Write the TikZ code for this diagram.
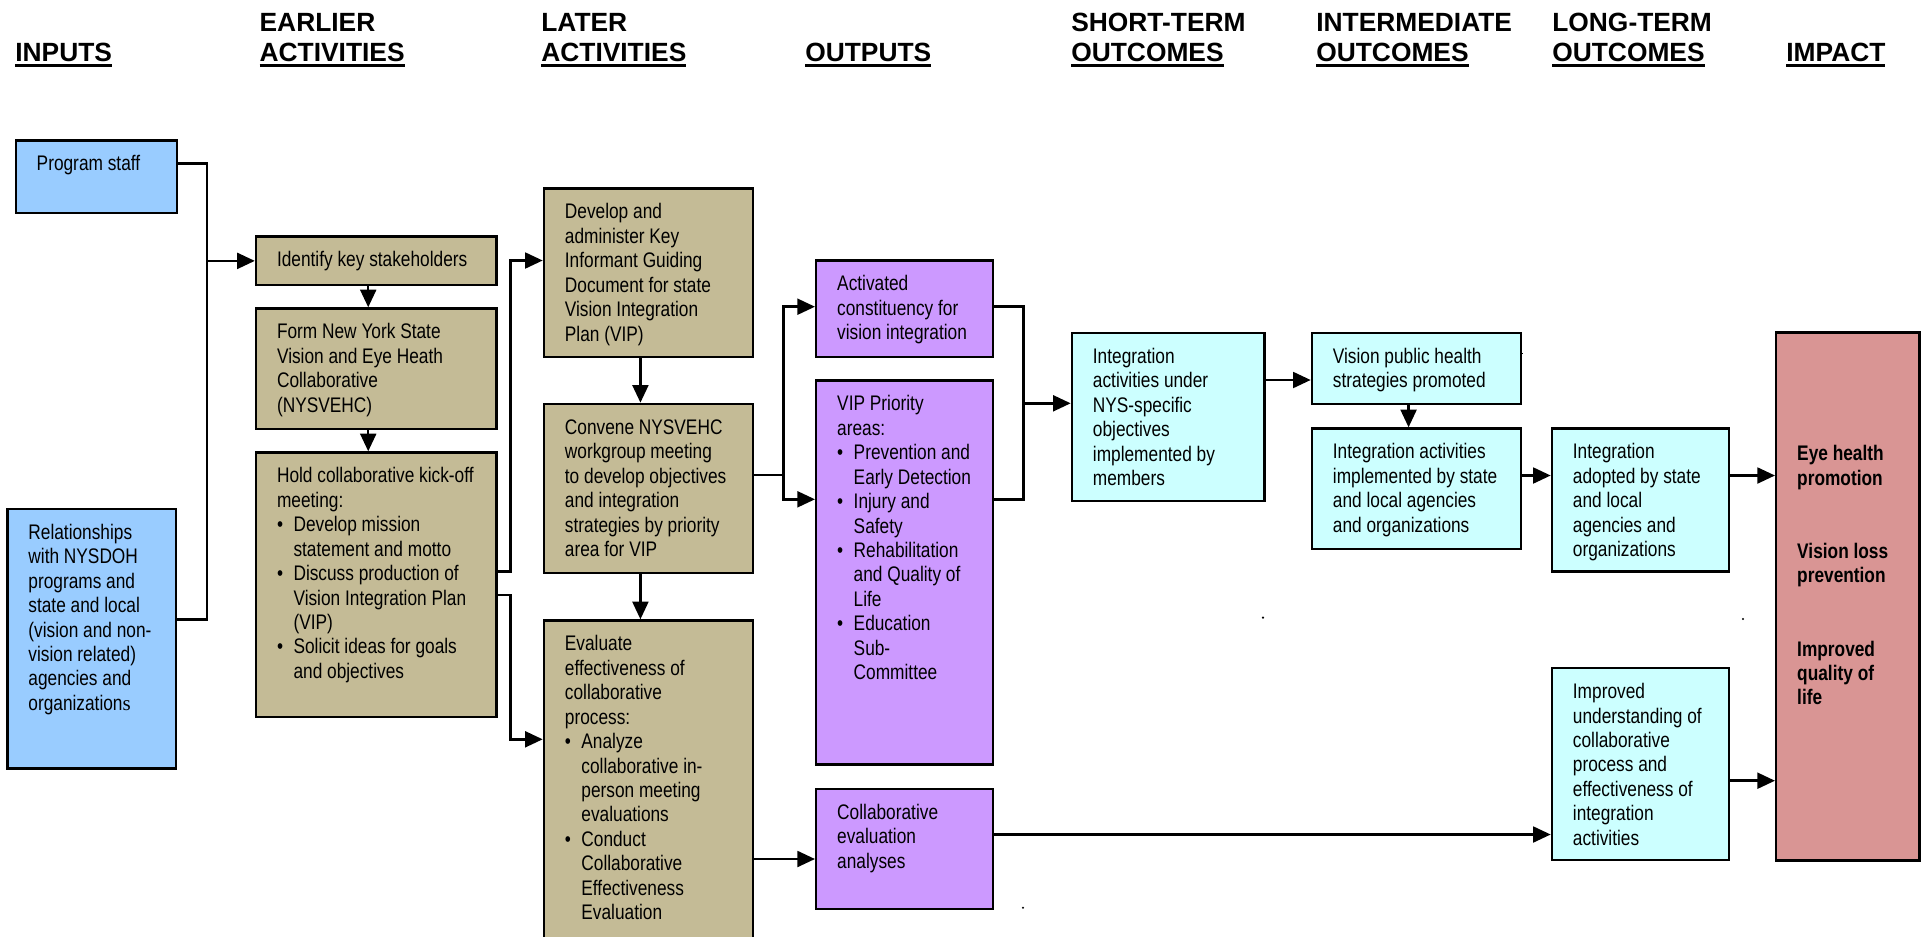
\documentclass[tikz,border=0pt]{standalone}
\usepackage{fontspec}
\setmainfont{Liberation Sans}[FakeStretch=0.82]
\newfontfamily\hfont{Liberation Sans}
\newfontfamily\serifs{Liberation Serif}
\usetikzlibrary{arrows.meta}

\definecolor{inblue}{RGB}{153,204,255}
\definecolor{acttan}{RGB}{196,187,150}
\definecolor{outlilac}{RGB}{204,153,255}
\definecolor{outcyan}{RGB}{204,255,255}
\definecolor{improse}{RGB}{217,149,148}

% one pixel of the 1925x937 layout
\newdimen\pxu \pxu=0.02cm
\newlength\lmysep \setlength\lmysep{7.6pt}
% box text: width, height (px), text set from the top left
\newcommand{\boxtext}[3]{\parbox[t][\dimexpr#2\pxu-2\lmysep\relax][t]{#1\pxu}{%
  \leftskip=21\pxu\rightskip=0pt plus 1fil\parfillskip=0pt plus 1fil\strut#3}}
\newcommand{\bitem}{\par\hangindent=16.5\pxu\hangafter=1\makebox[16.5\pxu][l]{\textbullet}}
\newsavebox\hulbox
\newcommand{\hul}[1]{\sbox\hulbox{#1}\rlap{\rule[-5\pxu]{\wd\hulbox}{2.4\pxu}}\usebox\hulbox}
\newcommand{\headtwo}[2]{\vtop{\hbox{#1}\hbox{\hul{#2}}}}

\begin{document}
\begin{tikzpicture}[x=0.02cm, y=-0.02cm, font=\fontsize{12pt}{13.9pt}\selectfont]

    \tikzset{
      lmbox/.style={
        draw=black,
        line width=1.4pt,
        anchor=north west,
        inner xsep=0pt,
        inner ysep=\lmysep,
      },
      head/.style={
        anchor=base west,
        inner sep=0pt,
        font=\hfont\bfseries\fontsize{15pt}{17.07pt}\selectfont,
      },
      conn/.style={line width=1.4pt},
      arr/.style={conn, -{Triangle[length=10pt, width=9pt]}},
    }
    \useasboundingbox (0,0) rectangle (1925,937);
    \clip (0,0) rectangle (1925,937);

    % column heads
    \node[head] (hInputs) at (15,61.7) {\hul{INPUTS}};
    \node[head] (hEarly) at (259.3,31.7) {\headtwo{EARLIER}{ACTIVITIES}};
    \node[head] (hLater) at (541,31.7) {\headtwo{LATER}{ACTIVITIES}};
    \node[head] (hOutputs) at (805,61.7) {\hul{OUTPUTS}};
    \node[head] (hShort) at (1071,31.7) {\headtwo{SHORT-TERM}{OUTCOMES}};
    \node[head] (hInter) at (1316,31.7) {\headtwo{INTERMEDIATE}{OUTCOMES}};
    \node[head] (hLong) at (1552,31.7) {\headtwo{LONG-TERM}{OUTCOMES}};
    \node[head] (hImpact) at (1786,61.7) {\hul{IMPACT}};

    % inputs
    \node[lmbox, fill=inblue] (staff) at (14.5,139.3) {\boxtext{161}{72.4}{Program staff}};
    \node[lmbox, fill=inblue] (rel) at (6.2,507.7) {\boxtext{168.4}{259.6}{Relationships\\with NYSDOH\\programs and\\state and local\\(vision and non-\\vision related)\\agencies and\\organization{\serifs s}}};

    % earlier activities
    \node[lmbox, fill=acttan] (ident) at (254.8,235.3) {\boxtext{240.4}{48.7}{Identify key stakeholders}};
    \node[lmbox, fill=acttan] (form) at (254.8,307.3) {\boxtext{240.4}{120.4}{Form New York State\\Vision and Eye Heath\\Collaborative\\(NYSVEHC)}};
    \node[lmbox, fill=acttan] (hold) at (254.8,451.3) {\boxtext{240.4}{264.4}{Hold collaborative kick-off\\meeting:\bitem Develop mission\\statement and motto\bitem Discuss production of\\Vision Integration Plan\\(VIP)\bitem Solicit ideas for goals\\and objectives}};

    % later activities
    \node[lmbox, fill=acttan] (dev) at (542.7,187.3) {\boxtext{209}{168.4}{Develop and\\administer Key\\Informant Guiding\\Document for state\\Vision Integration\\Plan (VIP)}};
    \node[lmbox, fill=acttan] (conv) at (542.7,402.7) {\boxtext{209}{169}{Convene NYSVEHC\\workgroup meeting\\to develop objectives\\and integration\\strategies by priority\\area for VIP}};
    \node[lmbox, fill=acttan] (eval) at (542.7,619.3) {\boxtext{209}{340}{Evaluate\\effectiveness of\\collaborative\\process:\bitem Analyze\\collaborative in-\\person meeting\\evaluations\bitem Conduct\\Collaborative\\Effectiveness\\Evaluation}};

    % outputs
    \node[lmbox, fill=outlilac] (act) at (815,259.3) {\boxtext{176.7}{96.4}{Activated\\constituency for\\vision integration}};
    \node[lmbox, fill=outlilac] (vip) at (815,379.3) {\boxtext{176.7}{384}{VIP Priority\\areas:\bitem Prevention and\\Early Detection\bitem Injury and\\Safety\bitem Rehabilitation\\and Quality of\\Life\bitem Education\\Sub-\\Committee}};
    \node[lmbox, fill=outlilac] (ceval) at (815,787.7) {\boxtext{176.7}{120}{Collaborative\\evaluation\\analyses}};

    % outcomes
    \node[lmbox, fill=outcyan] (nys) at (1070.7,331.7) {\boxtext{192.6}{168.3}{Integration\\activities under\\NYS-specific\\objectives\\implemented by\\members}};
    \node[lmbox, fill=outcyan] (vph) at (1310.7,331.7) {\boxtext{209.3}{71}{Vision public health\\strategies promoted}};
    \node[lmbox, fill=outcyan] (iaimp) at (1310.7,427.3) {\boxtext{209.3}{120.4}{Integration activities\\implemented by state\\and local agencies\\and organizations}};
    \node[lmbox, fill=outcyan] (iadopt) at (1550.7,427.3) {\boxtext{177}{143}{Integration\\adopted by state\\and local\\agencies and\\organizations}};
    \node[lmbox, fill=outcyan] (iund) at (1550.7,667) {\boxtext{177}{192}{Improved\\understanding of\\collaborative\\process and\\effectiveness of\\integration\\activities}};

    % impact
    \node[lmbox, fill=improse] (impact) at (1775,331.4) {\boxtext{143.3}{528}{\mbox{}\\[3\baselineskip]{\bfseries Eye health\\promotion\\[2\baselineskip]Vision loss\\prevention\\[2\baselineskip]Improved\\quality of\\life}}};

    % downward arrows inside the columns
    \foreach \a/\b in {ident/form, form/hold, dev/conv, conv/eval, vph/iaimp}
      \draw[arr] ([xshift=-8\pxu]\a.south) -- ([xshift=-8\pxu]\b.north);

    % inputs to earlier activities
    \coordinate (busA1) at (207,163.3);
    \coordinate (busA2) at (207,619.5);
    \draw[conn] (staff.east |- busA1) -- (busA1) -- (busA2) -- (rel.east |- busA2);
    \draw[arr] (busA1 |- ident.west) -- (ident.west);

    % earlier to later activities
    \coordinate (busB1) at (510.7,571.7);
    \coordinate (busB2) at (510.7,595);
    \coordinate (busBtop) at (510.7,260.5);
    \coordinate (busBbot) at (510.7,739.3);
    \draw[arr] (hold.east |- busB1) -- (busB1) -- (busBtop) -- (dev.west |- busBtop);
    \draw[arr] (hold.east |- busB2) -- (busB2) -- (busBbot) -- (eval.west |- busBbot);

    % later activities to outputs
    \coordinate (busC) at (783.3,475);
    \coordinate (busCtop) at (783.3,306.7);
    \coordinate (busCbot) at (783.3,499.3);
    \draw[conn] (conv.east |- busC) -- (busC);
    \draw[arr] (busC) -- (busCtop) -- (act.west |- busCtop);
    \draw[arr] (busC) -- (busCbot) -- (vip.west |- busCbot);

    % outputs to short-term outcomes
    \coordinate (busD) at (1023.3,403.3);
    \draw[conn] (act.east |- busCtop) -| (busD);
    \draw[conn] (vip.east |- busCbot) -| (busD);
    \draw[arr] (busD) -- (nys.west |- busD);

    % outcomes to impact
    \coordinate (yNV) at (0,380);
    \coordinate (yIA) at (0,475.5);
    \coordinate (yIU) at (0,780.7);
    \coordinate (yCE) at (0,834.5);
    \coordinate (yEC) at (0,859);
    \draw[arr] (nys.east |- yNV) -- (vph.west |- yNV);
    \draw[arr] (iaimp.east |- yIA) -- (iadopt.west |- yIA);
    \draw[arr] (iadopt.east |- yIA) -- (impact.west |- yIA);
    \draw[arr] (iund.east |- yIU) -- (impact.west |- yIU);
    \draw[arr] (ceval.east |- yCE) -- (iund.west |- yCE);
    \draw[arr] (eval.east |- yEC) -- (ceval.west |- yEC);

    % stray marks
    \foreach \p in {(1263,617.6), (1743,619), (1023,907.7)}
      \fill \p circle (1.2);
    \fill (1520,352.5) rectangle (1523,353.8);

\end{tikzpicture}
\end{document}
